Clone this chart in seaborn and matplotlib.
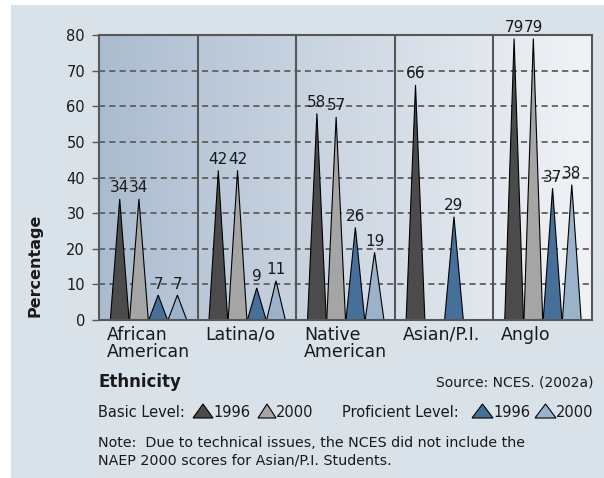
import matplotlib
matplotlib.use("Agg")
import matplotlib.pyplot as plt
from matplotlib.patches import Polygon, Rectangle
import numpy as np
import pandas as pd
import seaborn as sns

# ---- data -------------------------------------------------------------
groups = ["African\nAmerican", "Latina/o", "Native\nAmerican", "Asian/P.I.", "Anglo"]
basic_1996 = [34, 42, 58, 66, 79]
basic_2000 = [34, 42, 57, None, 79]
prof_1996 = [7, 9, 26, 29, 37]
prof_2000 = [7, 11, 19, None, 38]
series_names = ["Basic 1996", "Basic 2000", "Proficient 1996", "Proficient 2000"]
y_ticks = [0, 10, 20, 30, 40, 50, 60, 70, 80]

# ---- style ------------------------------------------------------------
sns.set_theme(style="white")
plt.rcParams["font.family"] = ["DejaVu Sans"]
colors = sns.color_palette(["#4b4b4b", "#a5a5a5", "#46709a", "#9ab3cb"])
bg_cmap = sns.blend_palette(["#abbcd0", "#f1f3f6"], n_colors=256, as_cmap=True)
frame_col = "#575757"
text_col = "#1a1a1a"

W, H = 604, 478
fig = plt.figure(figsize=(W / 100, H / 100), dpi=100)
fig.patch.set_facecolor("white")


def fx(px):
    return px / W


def fy(py):
    return 1 - py / H


# panel background
fig.add_artist(Rectangle((fx(11), 0), 1 - fx(11), fy(5), transform=fig.transFigure,
                         facecolor="#d9e1e9", edgecolor="none", zorder=-10))

ax = fig.add_axes([fx(99), fy(320), fx(592) - fx(99), fy(35) - fy(320)])
ax.set_facecolor("none")
ax.set_xlim(0, len(groups))
ax.set_ylim(0, 80)

# horizontal gradient inside the plot area
grad = np.linspace(0, 1, 256).reshape(1, -1)
ax.imshow(grad, extent=[0, len(groups), 0, 80], aspect="auto", cmap=bg_cmap,
          zorder=0, interpolation="bilinear")

# dashed gridlines
for yv in y_ticks[1:-1]:
    ax.axhline(yv, color="#5f5f5f", lw=1.3, linestyle=(0, (3.4, 2.3)), zorder=1)

# group dividers
for i in range(1, len(groups)):
    ax.axvline(i, color=frame_col, lw=1.5, zorder=4)

df = pd.DataFrame({
    "group": groups,
    "Basic 1996": basic_1996,
    "Basic 2000": basic_2000,
    "Proficient 1996": prof_1996,
    "Proficient 2000": prof_2000,
})

offsets = [0.21, 0.405, 0.60, 0.795]
hw = 0.095
for i, row in df.iterrows():
    for j, name in enumerate(series_names):
        v = row[name]
        if v is None or pd.isna(v):
            continue
        c = i + offsets[j]
        ax.fill([c - hw, c, c + hw], [0, v, 0], facecolor=colors[j],
                edgecolor="black", lw=0.8, zorder=3)
        ax.annotate(f"{int(v)}", (c, v), xytext=(0, 2.5), textcoords="offset points",
                    ha="center", va="bottom", fontsize=11, color=text_col, zorder=5)

for s in ax.spines.values():
    s.set_color(frame_col)
    s.set_linewidth(1.5)
    s.set_zorder(6)

ax.set_xticks([])
ax.set_yticks(y_ticks)
ax.tick_params(axis="y", left=True, length=5, width=1.0, color=frame_col, pad=5,
               labelsize=10.5, labelcolor=text_col)

# category labels under each panel
for i, g in enumerate(groups):
    ax.text(i + 0.08, -0.02, g, transform=ax.get_xaxis_transform(), ha="left", va="top",
            fontsize=12.5, color=text_col, linespacing=0.95)

fig.text(fx(35), fy(265), "Percentage", rotation=90, ha="center", va="center",
         fontsize=11.5, fontweight="bold", color=text_col)
fig.text(fx(98), fy(387), "Ethnicity", ha="left", va="baseline",
         fontsize=12, fontweight="bold", color=text_col)
fig.text(fx(594), fy(387), "Source: NCES. (2002a)", ha="right", va="baseline",
         fontsize=10, color=text_col)

# legend row
def legend_tri(x0, x1, color):
    pts = [(fx(x0), fy(418)), (fx((x0 + x1) / 2), fy(404)), (fx(x1), fy(418))]
    fig.add_artist(Polygon(pts, closed=True, transform=fig.transFigure,
                           facecolor=color, edgecolor="black", lw=0.8))

base_y = fy(417)
fs_leg = 10.5
fig.text(fx(98), base_y, "Basic Level:", ha="left", va="baseline", fontsize=fs_leg, color=text_col)
legend_tri(193, 213, colors[0])
fig.text(fx(213), base_y, "1996", ha="left", va="baseline", fontsize=fs_leg, color=text_col)
legend_tri(258, 276, colors[1])
fig.text(fx(276), base_y, "2000", ha="left", va="baseline", fontsize=fs_leg, color=text_col)
fig.text(fx(342), base_y, "Proficient Level:", ha="left", va="baseline", fontsize=fs_leg, color=text_col)
legend_tri(472, 493, colors[2])
fig.text(fx(493), base_y, "1996", ha="left", va="baseline", fontsize=fs_leg, color=text_col)
legend_tri(535, 556, colors[3])
fig.text(fx(556), base_y, "2000", ha="left", va="baseline", fontsize=fs_leg, color=text_col)

fig.text(fx(98), fy(447), "Note:  Due to technical issues, the NCES did not include the",
         ha="left", va="baseline", fontsize=10.3, color=text_col)
fig.text(fx(98), fy(464), "NAEP 2000 scores for Asian/P.I. Students.",
         ha="left", va="baseline", fontsize=10.3, color=text_col)

fig.savefig("out.png", dpi=100)
